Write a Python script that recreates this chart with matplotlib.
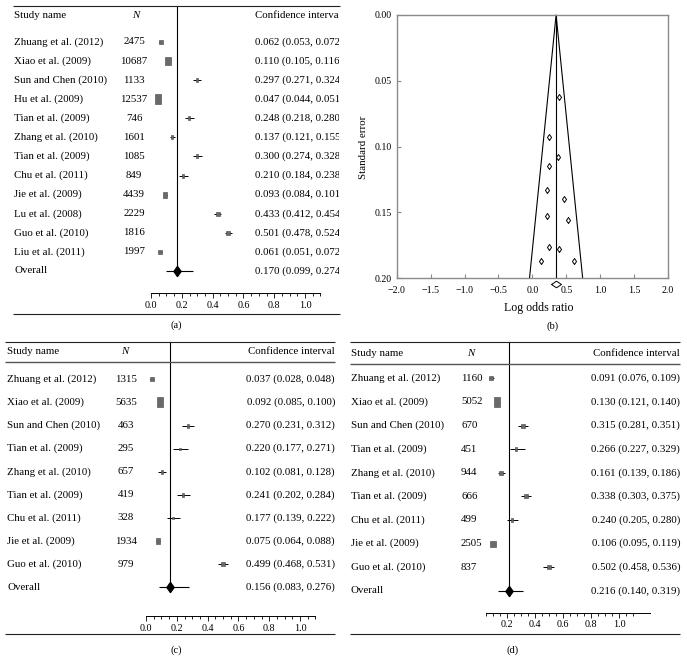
import matplotlib
matplotlib.use("Agg")
import matplotlib.pyplot as plt
from matplotlib.lines import Line2D
from matplotlib.ticker import FixedLocator, FixedFormatter
import numpy as np

W, H, DPI = 687, 661, 100
plt.rcParams['font.family'] = ['Liberation Serif', 'DejaVu Serif']

# ---------------- data ----------------
names_a = ["Zhuang et al. (2012)", "Xiao et al. (2009)", "Sun and Chen (2010)", "Hu et al. (2009)",
           "Tian et al. (2009)", "Zhang et al. (2010)", "Tian et al. (2009)", "Chu et al. (2011)",
           "Jie et al. (2009)", "Lu et al. (2008)", "Guo et al. (2010)", "Liu et al. (2011)"]
n_a = [2475, 10687, 1133, 12537, 746, 1601, 1085, 849, 4439, 2229, 1816, 1997]
est_a = [0.062, 0.110, 0.297, 0.047, 0.248, 0.137, 0.300, 0.210, 0.093, 0.433, 0.501, 0.061]
lo_a = [0.053, 0.105, 0.271, 0.044, 0.218, 0.121, 0.274, 0.184, 0.084, 0.412, 0.478, 0.051]
hi_a = [0.072, 0.116, 0.324, 0.051, 0.280, 0.155, 0.328, 0.238, 0.101, 0.454, 0.524, 0.072]
overall_a = [0.170, 0.099, 0.274]

names_cd = ["Zhuang et al. (2012)", "Xiao et al. (2009)", "Sun and Chen (2010)", "Tian et al. (2009)",
            "Zhang et al. (2010)", "Tian et al. (2009)", "Chu et al. (2011)", "Jie et al. (2009)",
            "Guo et al. (2010)"]
n_c = [1315, 5635, 463, 295, 657, 419, 328, 1934, 979]
est_c = [0.037, 0.092, 0.270, 0.220, 0.102, 0.241, 0.177, 0.075, 0.499]
lo_c = [0.028, 0.085, 0.231, 0.177, 0.081, 0.202, 0.139, 0.064, 0.468]
hi_c = [0.048, 0.100, 0.312, 0.271, 0.128, 0.284, 0.222, 0.088, 0.531]
overall_c = [0.156, 0.083, 0.276]

n_d = [1160, 5052, 670, 451, 944, 666, 499, 2505, 837]
est_d = [0.091, 0.130, 0.315, 0.266, 0.161, 0.338, 0.240, 0.106, 0.502]
lo_d = [0.076, 0.121, 0.281, 0.227, 0.139, 0.303, 0.205, 0.095, 0.458]
hi_d = [0.109, 0.140, 0.351, 0.329, 0.186, 0.375, 0.280, 0.119, 0.536]
overall_d = [0.216, 0.140, 0.319]

funnel_logor = [0.390, 0.248, 0.380, 0.243, 0.218, 0.474, 0.213, 0.528, 0.248, 0.390, 0.125, 0.611]
funnel_se = [0.062, 0.093, 0.108, 0.115, 0.133, 0.140, 0.153, 0.156, 0.176, 0.178, 0.187, 0.187]
funnel_center = 0.35
funnel_summary = [0.346, 0.2046]
funnel_xticks = [-2.0, -1.5, -1.0, -0.5, 0.0, 0.5, 1.0, 1.5, 2.0]
funnel_yticks = [0.00, 0.05, 0.10, 0.15, 0.20]

# ---------------- helpers ----------------
fig = plt.figure(figsize=(W / DPI, H / DPI), dpi=DPI)
fig.patch.set_facecolor('white')

def fx(px):
    return px / W

def fy(py):
    return 1 - py / H

def rule(x0, x1, y, lw=0.8, color='#222222'):
    fig.add_artist(Line2D([fx(x0), fx(x1)], [fy(y), fy(y)], transform=fig.transFigure,
                          lw=lw, color=color, solid_capstyle='butt'))

PT = 72.0 / DPI
RECT = [(-0.38, -0.5), (0.38, -0.5), (0.38, 0.5), (-0.38, 0.5), (-0.38, -0.5)]
BIGDIAM = [(0, -0.5), (0.36, 0), (0, 0.5), (-0.36, 0), (0, -0.5)]
THINDIAM = [(0, -0.5), (0.34, 0), (0, 0.5), (-0.34, 0), (0, -0.5)]
WIDEDIAM = [(-0.5, 0), (0, 0.33), (0.5, 0), (0, -0.33), (-0.5, 0)]

FS = 7.8


def forest(cfg, names, ns, est, lo, hi, overall):
    bx0, by0, bx1, by1 = cfg['box']
    x0px, unit = cfg['x0px'], cfg['unit']
    row0, step = cfg['row0'], cfg['step']
    ax = fig.add_axes([fx(bx0), fy(by1), (bx1 - bx0) / W, (by1 - by0) / H])
    ax.set_xlim((bx0 - x0px) / unit, (bx1 - x0px) / unit)
    ax.set_ylim((by1 - row0) / step, (by0 - row0) / step)
    ax.patch.set_visible(False)
    for s in ('top', 'left', 'right'):
        ax.spines[s].set_visible(False)
    ax.yaxis.set_visible(False)
    sp = ax.spines['bottom']
    sp.set_position(('data', (cfg['axis_y'] - row0) / step))
    sp.set_bounds(*cfg['bounds'])
    sp.set_linewidth(0.7)
    ax.xaxis.set_major_locator(FixedLocator(cfg['major']))
    ax.xaxis.set_major_formatter(FixedFormatter(['%.1f' % v for v in cfg['major']]))
    ax.xaxis.set_minor_locator(FixedLocator(cfg['minor']))
    ax.tick_params(axis='x', which='major', direction='out', length=3.4, width=0.6, pad=2.2,
                   labelsize=7.3)
    ax.tick_params(axis='x', which='minor', direction='out', length=2.0, width=0.6)

    px2x = lambda px: (px - x0px) / unit
    py2y = lambda py: (py - row0) / step

    rows = np.arange(len(names))
    orow = len(names)
    nmax = max(ns)
    # reference line at overall estimate
    ax.plot([overall[0], overall[0]], [py2y(cfg['top']), orow + 0.22], color='black', lw=0.8)
    # study CIs and squares
    ax.hlines(rows, lo, hi, color='black', lw=0.7)
    for r, n, e in zip(rows, ns, est):
        hpx = 1.0 + 8.2 * np.sqrt(n / nmax)
        ax.plot(e, r, marker=RECT, ms=hpx * PT, mfc='#6a6a6a', mec='#444444', mew=0.4,
                ls='none')
    # overall
    ax.hlines(orow, overall[1], overall[2], color='black', lw=0.8)
    ax.plot(overall[0], orow, marker=BIGDIAM, ms=10 * PT, color='black', ls='none')

    # texts
    ax.text(px2x(cfg['name_x']), py2y(cfg['header_y']), 'Study name', ha='left', va='center', fontsize=FS)
    ax.text(px2x(cfg['nhead_x']), py2y(cfg['header_y']), 'N', ha='center', va='center',
            fontsize=FS, style='italic')
    ax.text(px2x(cfg['ci_x']), py2y(cfg['header_y']), 'Confidence interval', ha=cfg['ci_ha'],
            va='center', fontsize=FS, clip_on=cfg['clip'])
    labels = names + ['Overall']
    for r, nm in enumerate(labels):
        ax.text(px2x(cfg['name_x']), r, nm, ha='left', va='center', fontsize=FS)
    for r, n in zip(rows, ns):
        ax.text(px2x(cfg['n_x']), r, str(n), ha=cfg['n_ha'], va='center', fontsize=FS)
    cis = list(zip(est, lo, hi)) + [tuple(overall)]
    for r, (e, l, h) in enumerate(cis):
        ax.text(px2x(cfg['ci_x']), r, '%.3f (%.3f, %.3f)' % (e, l, h), ha=cfg['ci_ha'],
                va='center', fontsize=FS, clip_on=cfg['clip'])

    rule(cfg['rule_x'][0], cfg['rule_x'][1], cfg['top'])
    if cfg.get('hrule') is not None:
        rule(cfg['rule_x'][0], cfg['rule_x'][1], cfg['hrule'], lw=1.0, color='#555555')
    rule(cfg['rule_x'][0], cfg['rule_x'][1], cfg['bottom'])
    fig.text(fx(cfg['label_xy'][0]), fy(cfg['label_xy'][1]), cfg['label'], ha='center',
             va='center', fontsize=7.6)
    return ax


minor_std = [round(v, 2) for v in np.arange(0.05, 1.101, 0.05)]
major_std = [0.0, 0.2, 0.4, 0.6, 0.8, 1.0]

cfg_a = dict(box=(0, 0, 339, 340), x0px=151, unit=154, row0=42, step=19.08,
             top=6, hrule=None, bottom=314, rule_x=(13, 340), header_y=16, axis_y=293,
             bounds=(0.0, 1.1), major=major_std, minor=minor_std,
             name_x=14, nhead_x=136, n_x=134, n_ha='center', ci_x=255, ci_ha='left', clip=True,
             label='(a)', label_xy=(176, 325))
cfg_c = dict(box=(0, 335, 340, 661), x0px=146, unit=154, row0=379.3, step=23.1,
             top=342.3, hrule=362.3, bottom=634, rule_x=(5, 335), header_y=352, axis_y=616,
             bounds=(0.0, 1.1), major=major_std, minor=minor_std,
             name_x=7, nhead_x=125, n_x=126, n_ha='center', ci_x=335, ci_ha='right', clip=False,
             label='(c)', label_xy=(176, 650))
cfg_d = dict(box=(345, 335, 687, 661), x0px=478.5, unit=140.8, row0=378.3, step=23.6,
             top=342.3, hrule=364.3, bottom=634, rule_x=(350, 680), header_y=353, axis_y=612.7,
             bounds=(0.05, 1.22), major=[0.2, 0.4, 0.6, 0.8, 1.0], minor=minor_std,
             name_x=350.7, nhead_x=471, n_x=461, n_ha='left', ci_x=680, ci_ha='right', clip=False,
             label='(d)', label_xy=(513, 650))

forest(cfg_a, names_a, n_a, est_a, lo_a, hi_a, overall_a)
forest(cfg_c, names_cd, n_c, est_c, lo_c, hi_c, overall_c)
forest(cfg_d, names_cd, n_d, est_d, lo_d, hi_d, overall_d)

# ---------------- funnel plot (b) ----------------
bx0, by0, bx1, by1 = 396.7, 15, 668, 278.3
axb = fig.add_axes([fx(bx0), fy(by1), (bx1 - bx0) / W, (by1 - by0) / H])
axb.set_xlim(-2, 2)
axb.set_ylim(0.2, 0.0)
for s in axb.spines.values():
    s.set_color('#8a8a8a')
    s.set_linewidth(1.0)
axb.set_xticks(funnel_xticks)
axb.set_xticklabels([('%.1f' % v).replace('-', '\u2212') for v in funnel_xticks])
axb.set_yticks(funnel_yticks)
axb.set_yticklabels(['%.2f' % v for v in funnel_yticks])
axb.tick_params(axis='both', direction='in', length=3.0, width=0.8, color='#8a8a8a',
                labelsize=7.1)
axb.tick_params(axis='x', pad=5.5)
axb.tick_params(axis='y', pad=3.5)
se_max = max(funnel_yticks)
axb.plot([funnel_center - 1.96 * se_max, funnel_center, funnel_center + 1.96 * se_max],
         [se_max, 0.0, se_max], color='black', lw=0.8, clip_on=False)
axb.plot([funnel_center, funnel_center], [0.0, se_max], color='black', lw=0.8)
axb.plot(funnel_logor, funnel_se, ls='none', marker=THINDIAM, ms=6.0 * PT, mfc='white',
         mec='black', mew=0.7)
axb.plot(funnel_summary[0], funnel_summary[1], ls='none', marker=WIDEDIAM, ms=10 * PT,
         mfc='white', mec='black', mew=0.7, clip_on=False, zorder=5)
fig.text(fx(363), fy(147), 'Standard error', rotation=90, ha='center', va='center', fontsize=7.8)
fig.text(fx(539), fy(308), 'Log odds ratio', ha='center', va='center', fontsize=8.6)
fig.text(fx(553), fy(326), '(b)', ha='center', va='center', fontsize=7.6)

fig.savefig('out.png', dpi=DPI, facecolor='white')
